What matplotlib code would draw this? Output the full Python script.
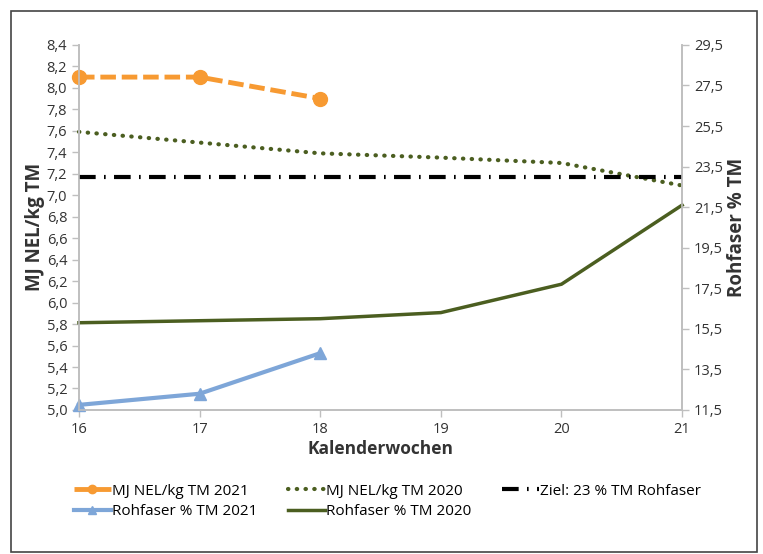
import matplotlib
matplotlib.use("Agg")
import matplotlib.pyplot as plt
from matplotlib.patches import Rectangle
from matplotlib.ticker import FixedLocator

plt.rcParams['font.family'] = ['Open Sans', 'DejaVu Sans']

weeks = [16, 17, 18, 19, 20, 21]
nel_2021 = [8.1, 8.1, 7.9]
nel_2020 = [7.59, 7.49, 7.39, 7.35, 7.30, 7.09]
rf_2021 = [11.75, 12.3, 14.3]
rf_2020 = [15.8, 15.9, 16.0, 16.3, 17.7, 21.6]
ziel = 23

left_ticks = [5.0 + 0.2 * i for i in range(18)]
right_ticks = [11.5 + 2 * i for i in range(10)]

def fmt(v, d=1):
	return ("%.*f" % (d, v)).replace(".", ",")

fig = plt.figure(figsize=(7.63, 5.54), dpi=100)
ax = fig.add_axes([0.1035, 0.26, 0.7905, 0.659])
ax2 = ax.twinx()

orange = "#F79A32"
green = "#4B5E20"
blue = "#7EA6D8"

l1, = ax.plot(weeks[:3], nel_2021, color=orange, lw=3.5, ls=(0, (3.2, 1.2)),
	marker="o", ms=10, zorder=5, clip_on=False)
l2, = ax.plot(weeks, nel_2020, color=green, lw=3, ls=(0, (0.1, 2.0)),
	dash_capstyle="round", clip_on=False)
l3, = ax2.plot([weeks[0], weeks[-1]], [ziel, ziel], color="black", lw=3,
	ls=(0, (4, 2, 0.4, 2)), clip_on=False)
l4, = ax2.plot(weeks[:3], rf_2021, color=blue, lw=3, marker="^", ms=9,
	clip_on=False)
l5, = ax2.plot(weeks, rf_2020, color=green, lw=2.5, clip_on=False)

ax.set_xlim(16, 21)
ax.set_ylim(5.0, 8.4)
ax2.set_ylim(11.5, 29.5)
ax.set_xticks(weeks)
ax.yaxis.set_major_locator(FixedLocator(left_ticks))
ax.set_yticklabels([fmt(v) for v in left_ticks])
ax2.yaxis.set_major_locator(FixedLocator(right_ticks))
ax2.set_yticklabels([fmt(v) for v in right_ticks])

grey = "#BFBFBF"
for a in (ax, ax2):
	a.spines["top"].set_visible(False)
	for s in ("left", "right", "bottom"):
		a.spines[s].set_color(grey)
		a.spines[s].set_linewidth(1.2)
	a.tick_params(colors=grey, labelcolor="#333333", labelsize=10.5, length=5, width=1)

ax.set_xlabel("Kalenderwochen", fontsize=12.5, fontweight="bold", color="#333333", labelpad=2)
ax.set_ylabel("MJ NEL/kg TM", fontsize=13.5, fontweight="bold", color="#333333", labelpad=1)
ax2.set_ylabel("Rohfaser % TM", fontsize=13.5, fontweight="bold", color="#333333", labelpad=3)

handles = [l1, l4, l2, l5, l3]
labels = ["MJ NEL/kg TM 2021", "Rohfaser % TM 2021", "MJ NEL/kg TM 2020",
	"Rohfaser % TM 2020", "Ziel: 23 % TM Rohfaser"]
fig.legend(handles, labels, ncol=3, loc="upper left", bbox_to_anchor=(0.079, 0.152),
	frameon=False, fontsize=11, handlelength=2.4, columnspacing=2.0,
	labelspacing=0.35, handletextpad=0.1, markerscale=0.6)

fig.add_artist(Rectangle((11 / 763, 1 - 552 / 554), 746 / 763, 541 / 554,
	transform=fig.transFigure, fill=False, ec="#444444", lw=1.2))

fig.savefig("out.png", dpi=100)
